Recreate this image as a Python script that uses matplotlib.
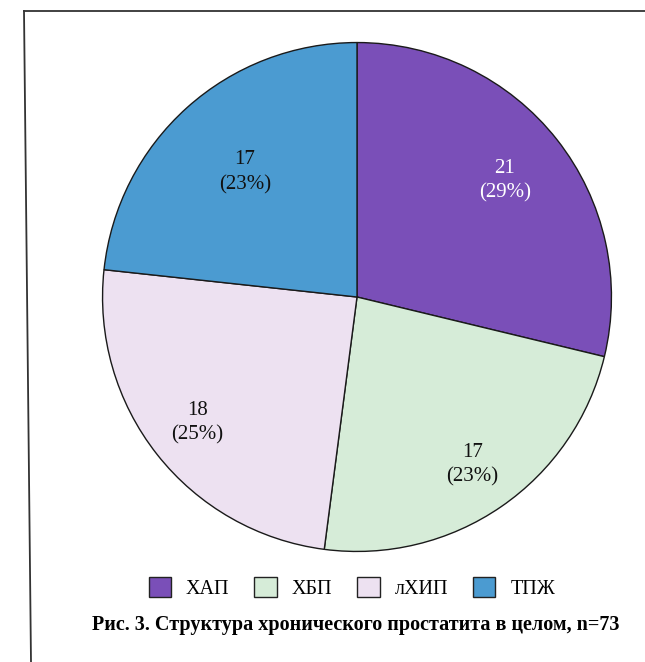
import numpy as np
import matplotlib
matplotlib.use("Agg")
import matplotlib.pyplot as plt
from matplotlib.patches import Patch
from matplotlib.lines import Line2D

categories = ["ХАП", "ХБП", "лХИП", "ТПЖ"]
values = [21, 17, 18, 17]
percents = [29, 23, 25, 23]
colors = ["#7a4fb8", "#d6ecd8", "#ede1f1", "#4b9bd1"]
text_colors = ["white", "#111111", "#111111", "#111111"]
label_dist = [0.74, 0.80, 0.80, 0.66]
caption = "Рис. 3. Структура хронического простатита в целом, n=73"

plt.rcParams['font.family'] = ['Liberation Serif', 'DejaVu Serif']

W, H = 645, 662
fig = plt.figure(figsize=(W / 100, H / 100), dpi=100)

# frame lines (page border)
fig.add_artist(Line2D([24 / W, 1.0], [1 - 11 / H, 1 - 11 / H], color="#333333", lw=1.3))
fig.add_artist(Line2D([24 / W, 31 / W], [1 - 11 / H, 0.0], color="#333333", lw=1.3))

cx, cy, R = 357, 297, 257
ax = fig.add_axes([(cx - R) / W, 1 - (cy + R) / H, 2 * R / W, 2 * R / H])
wedges, _ = ax.pie(values, colors=colors, startangle=90, counterclock=False,
                   radius=1.0, wedgeprops=dict(edgecolor="#1a1a1a", linewidth=1.0))
ax.set_xlim(-1.01, 1.01)
ax.set_ylim(-1.01, 1.01)
ax.set_aspect("equal")
ax.axis("off")

for w, v, p, tc, d in zip(wedges, values, percents, text_colors, label_dist):
    ang = np.deg2rad((w.theta1 + w.theta2) / 2)
    ax.text(d * np.cos(ang), d * np.sin(ang), f"{v}\n({p}%)", ha="center", va="center",
            fontsize=15, color=tc, linespacing=1.4)

handles = [Patch(facecolor=c, edgecolor="#222222", linewidth=1.0) for c in colors]
fig.legend(handles, categories, loc="center", bbox_to_anchor=(352 / W, 1 - 588 / H),
           ncol=4, frameon=False, fontsize=14.5, handlelength=1.1, handleheight=1.1,
           handletextpad=0.75, columnspacing=1.25, borderpad=0)

fig.text(356 / W, 1 - 625 / H, caption, ha="center", va="center",
         fontsize=14.5, fontweight="bold")

fig.savefig("out.png", dpi=100, facecolor="white")
